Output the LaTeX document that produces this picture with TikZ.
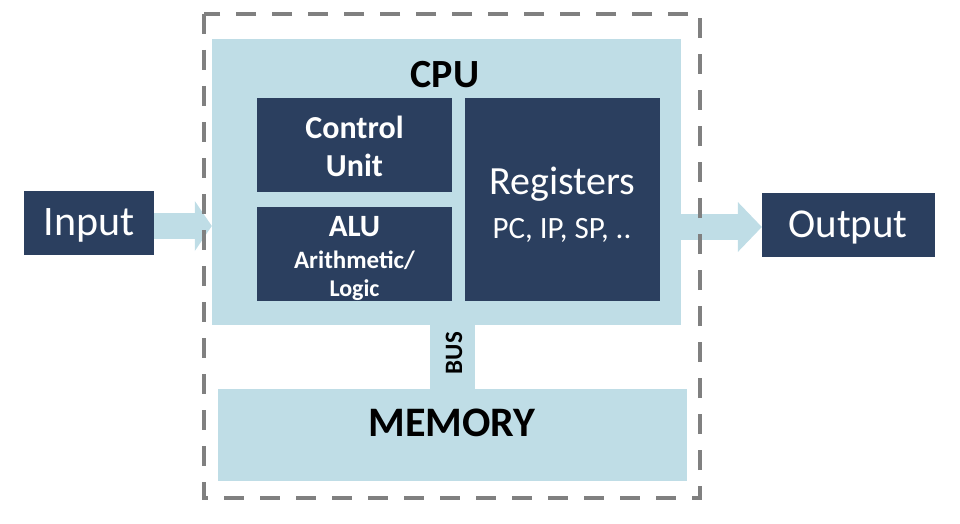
\documentclass[tikz,border=0pt]{standalone}
\usepackage{fontspec}
\setmainfont{Carlito}
\usetikzlibrary{arrows.meta}
\definecolor{navy}{HTML}{2B3F5F}
\definecolor{lblue}{HTML}{BFDDE6}
\definecolor{dgray}{HTML}{808080}
\tikzset{
  dark/.style={fill=navy, draw=none, text=white, inner sep=0pt},
  light/.style={fill=lblue, draw=none, inner sep=0pt},
  flow/.style={draw=lblue, line width=26pt, -{Triangle[length=#1,width=50pt,line width=0pt]}},
  lbl/.style={inner sep=0pt, align=center},
}
\newcommand{\fs}[1]{\fontsize{#1}{#1}\selectfont}
\begin{document}
\begin{tikzpicture}[x=1pt,y=-1pt]
\useasboundingbox (0,0) rectangle (960,524);
% boxes
\node[light, minimum width=469pt, minimum height=286pt] (cpu) at (446.5,182) {};
\node[light, minimum width=45pt, minimum height=64pt] (bus) at (452.5,357) {};
\node[light, minimum width=469pt, minimum height=92pt] (mem) at (452.5,435) {};
\node[dark, minimum width=195pt, minimum height=94pt] (cu) at (354.5,145) {};
\node[dark, minimum width=195pt, minimum height=94pt] (alu) at (354.5,254) {};
\node[dark, minimum width=195pt, minimum height=203pt] (reg) at (562.5,199.5) {};
\node[dark, minimum width=130pt, minimum height=64pt] (input) at (89,223) {};
\node[dark, minimum width=173pt, minimum height=64pt] (output) at (848.5,225) {};
% arrows
\coordinate (inA) at (89,226);
\coordinate (outA) at (848,227);
\draw[flow=17pt] (input.east |- inA) -- (cpu.west |- inA);
\draw[flow=24pt] (cpu.east |- outA) -- (output.west |- outA);
% dashed frame
\draw[dgray, line width=4pt, dash pattern=on 20pt off 16pt] (204,14) rectangle (700,498);
% labels
\node[lbl, font=\fs{42}, text=white] (intxt) at (89,225) {Input};
\node[lbl, font=\fs{41}, text=white] (outtxt) at (848,227) {Output};
\node[lbl, font=\bfseries\fs{40}] (cpulbl) at (445,75) {CPU};
\node[lbl, font=\bfseries\fs{32}, text=white] (cutxt1) at (354.5,127) {Control};
\node[lbl, font=\bfseries\fs{32}, text=white] (cutxt2) at (354.5,165) {Unit};
\node[lbl, font=\bfseries\fs{31}, text=white] (alutxt) at (354.5,227) {ALU};
\node[lbl, font=\bfseries\fs{25}, text=white] (alusub1) at (354.5,260) {Arithmetic/};
\node[lbl, font=\bfseries\fs{24}, text=white] (alusub2) at (354.5,290) {Logic};
\node[lbl, font=\fs{40}, text=white] (regtxt) at (562.5,184) {Registers};
\node[lbl, font=\fs{31}, text=white] (regsub) at (562,230) {PC, IP, SP, ..};
\node[lbl, font=\bfseries\fs{25}, rotate=90] (bustxt) at (454,353) {BUS};
\node[lbl, font=\bfseries\fs{42}] (memtxt) at (452,423) {MEMORY};
\end{tikzpicture}
\end{document}
